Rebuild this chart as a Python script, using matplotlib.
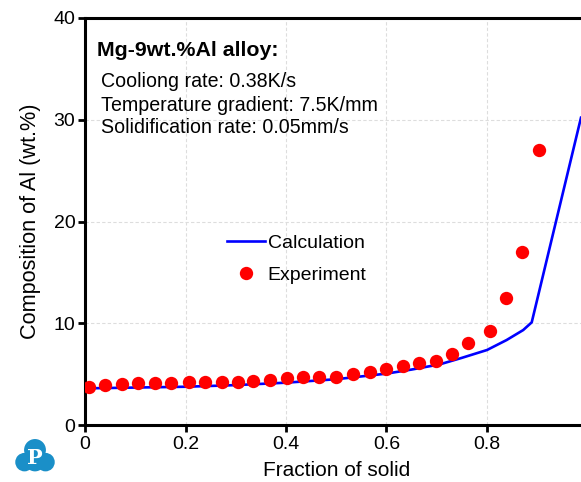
import matplotlib
matplotlib.use('Agg')
from matplotlib import pyplot as plt
from matplotlib.patches import Circle
import numpy as np

plt.rcParams['font.family'] = ['Liberation Sans', 'DejaVu Sans']

########## data ##########
# calculated curve (Scheil-type)
calc_fs = [0.0, 0.1, 0.2, 0.3, 0.4, 0.5, 0.6, 0.65, 0.706, 0.75, 0.8, 0.839, 0.872, 0.889, 0.987]
calc_al = [3.6, 3.68, 3.76, 3.92, 4.16, 4.5, 5.05, 5.45, 5.96, 6.6, 7.37, 8.35, 9.33, 10.09, 30.2]

# experiment points
exp_fs = [0.007, 0.04, 0.073, 0.106, 0.139, 0.172, 0.206, 0.239, 0.272, 0.305,
          0.335, 0.368, 0.401, 0.434, 0.466, 0.5, 0.533, 0.567, 0.599, 0.632,
          0.665, 0.699, 0.73, 0.763, 0.805, 0.838, 0.87, 0.903]
exp_al = [3.70, 3.93, 4.0, 4.1, 4.1, 4.15, 4.2, 4.2, 4.25, 4.25,
          4.35, 4.42, 4.59, 4.69, 4.75, 4.75, 5.0, 5.18, 5.5, 5.8,
          6.06, 6.29, 6.95, 8.05, 9.24, 12.48, 17.0, 27.0]

x_ticks = [0, 0.2, 0.4, 0.6, 0.8]
x_tick_labels = ['0', '0.2', '0.4', '0.6', '0.8']
y_ticks = [0, 10, 20, 30, 40]

info_title = 'Mg-9wt.%Al alloy:'
info_lines = ['Cooliong rate: 0.38K/s',
              'Temperature gradient: 7.5K/mm',
              'Solidification rate: 0.05mm/s']
################################################

W, H = 581, 482
fig = plt.figure(figsize=(W / 100, H / 100), dpi=100)
ax = fig.add_axes([85 / W, 57 / H, 502.5 / W, 407 / H])

ax.plot(calc_fs, calc_al, color='#0000ff', lw=1.9, label='Calculation', zorder=3)
ax.plot(exp_fs, exp_al, 'o', color='#ff0000', ms=9.6, mec='none',
        label='Experiment', zorder=4)

ax.set_xlim(0, 1)
ax.set_ylim(0, 40)
ax.set_xticks(x_ticks)
ax.set_xticklabels(x_tick_labels)
ax.set_yticks(y_ticks)

ax.grid(True, color='#dddddd', ls=(0, (3, 2)), lw=0.8)
ax.set_axisbelow(True)

for s in ['left', 'bottom', 'top']:
    ax.spines[s].set_linewidth(2.2)
ax.spines['right'].set_visible(False)
ax.tick_params(direction='out', length=5, width=2, labelsize=14, pad=2)
ax.tick_params(axis='x', pad=3)

ax.set_xlabel('Fraction of solid', fontsize=15, labelpad=6)
ax.set_ylabel('Composition of Al (wt.%)', fontsize=15.6, labelpad=9)

ax.text(0.024, 0.919, info_title, transform=ax.transAxes, fontsize=15.4,
        fontweight='bold', va='center', ha='left')
for yy, line in zip([0.843, 0.786, 0.731], info_lines):
    ax.text(0.032, yy, line, transform=ax.transAxes, fontsize=14.1,
            va='center', ha='left')

leg = ax.legend(loc='upper left', bbox_to_anchor=(0.268, 0.487), frameon=False,
                fontsize=14, handlelength=1.95, handletextpad=0.12,
                labelspacing=0.72, borderaxespad=0)

# little logo in the lower-left corner
lax = fig.add_axes([14 / W, 6 / H, 42 / W, 42 / H])
lax.set_xlim(0, 1)
lax.set_ylim(0, 1)
lax.set_aspect('equal')
lax.axis('off')
blue = '#1a8fc8'
for cx, cy, r in [(0.5, 0.62, 0.26), (0.25, 0.33, 0.22), (0.75, 0.33, 0.22), (0.5, 0.35, 0.24)]:
    lax.add_patch(Circle((cx, cy), r, color=blue, lw=0))
lax.text(0.5, 0.42, 'P', color='white', fontsize=15, fontweight='bold',
         family='DejaVu Serif', ha='center', va='center')

fig.savefig('out.png', dpi=100)
